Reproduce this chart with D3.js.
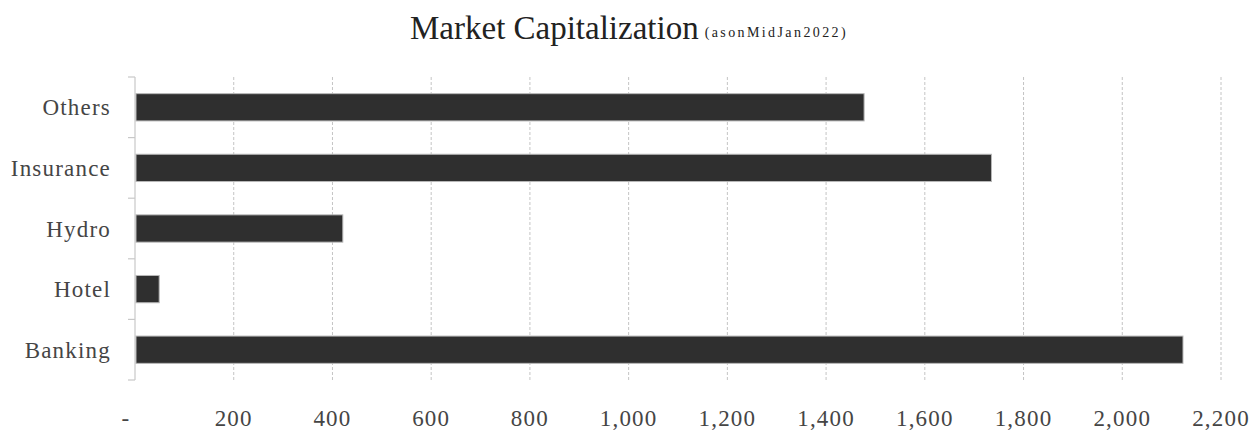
<!DOCTYPE html>
<html><head><meta charset="utf-8">
<script src="https://cdn.jsdelivr.net/npm/d3@7"></script>
<style>body{margin:0;background:#fff;} svg{display:block;}</style>
</head><body>
<svg id="chart" width="1251" height="431"></svg>
<script>
const categories = ["Others", "Insurance", "Hydro", "Hotel", "Banking"];
const values = [1477, 1735, 421, 49, 2123];
const tickValues = [0, 200, 400, 600, 800, 1000, 1200, 1400, 1600, 1800, 2000, 2200];
const title = "Market Capitalization";
const subtitle = "(asonMidJan2022)";

(function () {
const svg = d3.select("#chart");
const pL = 135, pR = 1221, pT = 77, pB = 380;
const x = d3.scaleLinear().domain([0, 2200]).range([pL, pR]);
const y = d3.scaleBand().domain(categories).range([pT, pB]).paddingInner(0.55).paddingOuter(0.275);

const fmt = d => d === 0 ? "-" : d3.format(",")(d);

// gridlines
svg.append("g").selectAll("line").data(tickValues.filter(d => d > 0)).join("line")
  .attr("x1", d => x(d)).attr("x2", d => x(d))
  .attr("y1", pT).attr("y2", pB)
  .attr("stroke", "#c4c4c4").attr("stroke-width", 1).attr("stroke-dasharray", "3,2");

// left axis line with band-boundary ticks
const bounds = categories.map((c, i) => pT + y.step() * i).concat([pB]);
const ax = svg.append("g").attr("stroke", "#c8c8c8").attr("stroke-width", 1.2);
ax.append("line").attr("x1", pL).attr("x2", pL).attr("y1", pT).attr("y2", pB);
ax.selectAll("line.t").data(bounds).join("line")
  .attr("class", "t").attr("x1", pL - 7).attr("x2", pL).attr("y1", d => d).attr("y2", d => d);

// bars
svg.append("g").selectAll("rect").data(categories).join("rect")
  .attr("x", x(0) + 1).attr("y", d => y(d))
  .attr("width", (d, i) => x(values[i]) - x(0) - 1)
  .attr("height", y.bandwidth())
  .attr("fill", "#2f2f2f").attr("stroke", "#b8b8b8").attr("stroke-width", 1);

// category labels
svg.append("g").selectAll("text").data(categories).join("text")
  .attr("x", 111).attr("y", d => y(d) + y.bandwidth() / 2)
  .attr("dy", "0.35em").attr("text-anchor", "end")
  .attr("font-family", "Liberation Serif, Times New Roman, serif").attr("font-size", 23)
  .attr("letter-spacing", "1.2px").attr("fill", "#454545")
  .text(d => d);

// x tick labels
svg.append("g").selectAll("text").data(tickValues).join("text")
  .attr("x", d => d === 0 ? 126 : x(d)).attr("y", 426).attr("text-anchor", "middle")
  .attr("font-family", "Liberation Serif, Times New Roman, serif").attr("font-size", 23)
  .attr("letter-spacing", "1.2px").attr("fill", "#454545")
  .text(fmt);

// title
const t = svg.append("text").attr("x", 410).attr("y", 39)
  .attr("font-family", "Liberation Serif, Times New Roman, serif").attr("fill", "#222");
t.append("tspan").attr("font-size", 33).text(title);
t.append("tspan").attr("font-size", 14).attr("dx", 6).attr("dy", -2).attr("letter-spacing", "2.4px").text(subtitle);
})();
</script>
</body></html>
